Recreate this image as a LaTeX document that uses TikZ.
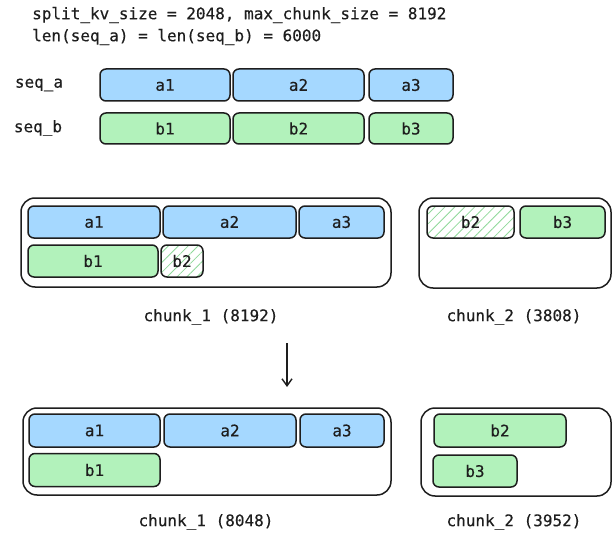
\documentclass[tikz,border=0pt]{standalone}
\usepackage{fontspec}
\setmonofont[FakeBold=0.3]{DejaVu Sans Mono}
\usetikzlibrary{patterns.meta,arrows.meta}
\definecolor{ink}{HTML}{1E1E1E}
\definecolor{bfill}{HTML}{A5D8FF}
\definecolor{gfill}{HTML}{B2F2BB}
\definecolor{hatch}{HTML}{8FD99A}
\begin{document}
\begin{tikzpicture}[x=1pt,y=-1pt,
  txt/.style={font=\ttfamily\fontsize{16}{19}\selectfont, text=ink, inner sep=0pt},
  blk/.style={draw=ink, line width=1.5pt, rounded corners=6pt, inner sep=0pt, txt},
  ablk/.style={blk, fill=bfill},
  bblk/.style={blk, fill=gfill},
  hblk/.style={blk, pattern={Lines[angle=45,distance=7pt,line width=0.8pt]}, pattern color=hatch},
  outer/.style={draw=ink, line width=1.5pt, rounded corners=14pt, inner sep=0pt},
  sz/.style 2 args={minimum width=#1pt, minimum height=#2pt}]
\useasboundingbox (0,0) rectangle (614,543);
\fill[white] (0,0) rectangle (614,543);
% header
\node[txt, anchor=west] (t1) at (32,15) {split\_kv\_size = 2048, max\_chunk\_size = 8192};
\node[txt, anchor=west] (t2) at (32,37) {len(seq\_a) = len(seq\_b) = 6000};
\node[txt] (la) at (39,85) {seq\_a};
\node[txt] (lb) at (38,128) {seq\_b};
% sequences
\node[ablk, sz={130}{32}] (sa1) at (165,85) {a1};
\node[ablk, sz={131}{32}] (sa2) at (298.5,85) {a2};
\node[ablk, sz={84}{32}] (sa3) at (411,85) {a3};
\node[bblk, sz={130}{31}] (sb1) at (165,128.5) {b1};
\node[bblk, sz={131}{31}] (sb2) at (298.5,128.5) {b2};
\node[bblk, sz={84}{31}] (sb3) at (411,128.5) {b3};
% top chunk 1
\node[outer, sz={370}{89}] (c1) at (206,242.5) {};
\node[ablk, sz={132}{32}] (c1a1) at (94,222) {a1};
\node[ablk, sz={133}{32}] (c1a2) at (229.5,222) {a2};
\node[ablk, sz={85}{32}] (c1a3) at (341.5,222) {a3};
\node[bblk, sz={130}{32}] (c1b1) at (93,261) {b1};
\node[hblk, sz={42}{32}] (c1b2) at (182,261) {b2};
\node[txt] (c1l) at (211,317) {chunk\_1 (8192)};
% top chunk 2
\node[outer, sz={192}{90}] (c2) at (515,243) {};
\node[hblk, sz={87}{32}] (c2b2) at (470.5,222) {b2};
\node[bblk, sz={85}{32}] (c2b3) at (562.5,222) {b3};
\node[txt] (c2l) at (514,317) {chunk\_2 (3808)};
% arrow
\coordinate (ar0) at (287,343);
\coordinate (ar1) at (287,387);
\draw[ink, line width=1.4pt, -{Straight Barb[length=7pt,width=10pt]}] (ar0) -- (ar1);
% bottom chunk 1
\node[outer, sz={368}{87}] (d1) at (207,451.5) {};
\node[ablk, sz={131}{33}] (d1a1) at (94.5,430.5) {a1};
\node[ablk, sz={132}{33}] (d1a2) at (230,430.5) {a2};
\node[ablk, sz={84}{33}] (d1a3) at (342,430.5) {a3};
\node[bblk, sz={131}{33}] (d1b1) at (94.5,470) {b1};
\node[txt] (d1l) at (206,522) {chunk\_1 (8048)};
% bottom chunk 2
\node[outer, sz={190}{88}] (d2) at (516,452) {};
\node[bblk, sz={132}{33}] (d2b2) at (500,430.5) {b2};
\node[bblk, sz={84}{32}] (d2b3) at (475,471) {b3};
\node[txt] (d2l) at (514,522) {chunk\_2 (3952)};
\end{tikzpicture}
\end{document}
